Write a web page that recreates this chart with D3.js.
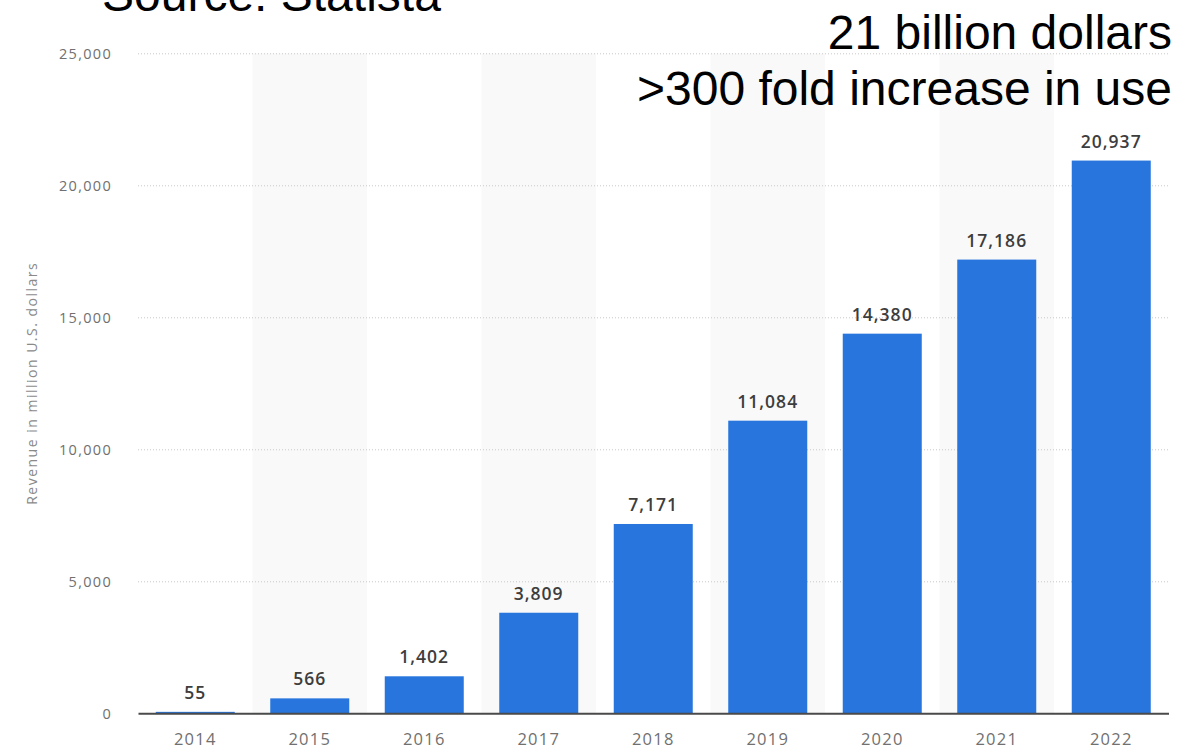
<!DOCTYPE html>
<html>
<head>
<meta charset="utf-8">
<script src="https://cdn.jsdelivr.net/npm/d3@7"></script>
<style>
  html, body { margin: 0; padding: 0; background: #fff; }
  svg { display: block; }
</style>
</head>
<body>
<svg id="chart" width="1201" height="747"></svg>
<script>
// Revenue by year, million U.S. dollars
const years = ["2014", "2015", "2016", "2017", "2018", "2019", "2020", "2021", "2022"];
const revenue = [55, 566, 1402, 3809, 7171, 11084, 14380, 17186, 20937];
const yTicks = [0, 5000, 10000, 15000, 20000, 25000];
const headline = ["21 billion dollars", ">300 fold increase in use"];
const sourceNote = "Source: Statista";
const yTitle = "Revenue in million U.S. dollars";

const svg = d3.select("#chart");
const plotLeft = 138, plotRight = 1168.5, plotTop = 53.3, plotBottom = 713.3;

const xBand = d3.scaleBand().domain(years).range([plotLeft, plotRight]).padding(0);
const xBar = d3.scaleBand().domain(years).range([plotLeft, plotRight])
  .paddingInner(0.31).paddingOuter(0.155);
const y = d3.scaleLinear().domain([0, 25000]).range([plotBottom, plotTop]);

const fmt = d3.format(",");

// alternating column shading
svg.append("g").selectAll("rect")
  .data(years.filter((d, i) => i % 2 === 1))
  .join("rect")
  .attr("x", d => xBand(d))
  .attr("y", plotTop)
  .attr("width", xBand.bandwidth())
  .attr("height", plotBottom - plotTop)
  .attr("fill", "#f9f9f9");

// dotted gridlines and value ticks
const yAxis = d3.axisLeft(y).tickValues(yTicks).tickFormat(fmt)
  .tickSize(0).tickPadding(0);
const gy = svg.append("g").attr("transform", `translate(${plotLeft},0)`).call(yAxis);
gy.select(".domain").remove();
gy.selectAll(".tick line").remove();
gy.selectAll(".tick")
  .filter(d => d > 0)
  .append("line")
  .attr("x1", 0).attr("x2", plotRight - plotLeft)
  .attr("stroke", "#c8c8c8")
  .attr("stroke-width", 1)
  .attr("stroke-dasharray", "1,2");
gy.selectAll(".tick text")
  .attr("x", -26)
  .attr("dy", "0.35em")
  .attr("fill", "#707070")
  .style("font-family", "'Open Sans', sans-serif")
  .style("font-size", "14.5px")
  .style("letter-spacing", "1.3px");

const rows = years.map((d, i) => ({ year: d, value: revenue[i] }));

// bars
svg.append("g").selectAll("rect")
  .data(rows)
  .join("rect")
  .attr("x", d => xBar(d.year))
  .attr("y", d => y(d.value))
  .attr("width", xBar.bandwidth())
  .attr("height", d => y(0) - y(d.value))
  .attr("fill", "#2876dd");

// value labels
svg.append("g").selectAll("text")
  .data(rows)
  .join("text")
  .attr("x", d => xBar(d.year) + xBar.bandwidth() / 2)
  .attr("y", d => y(d.value) - 13)
  .attr("text-anchor", "middle")
  .attr("fill", "#3d3d3d")
  .style("font-family", "'Open Sans', sans-serif")
  .style("font-weight", "600")
  .style("font-size", "17.5px")
  .style("letter-spacing", "1px")
  .text(d => fmt(d.value));

// x axis
const xAxis = d3.axisBottom(xBand).tickSize(0).tickPadding(0);
const gx = svg.append("g").attr("transform", `translate(0,${plotBottom})`).call(xAxis);
gx.select(".domain")
  .attr("stroke", "#4a4a4a")
  .attr("stroke-width", 2);
gx.selectAll(".tick text")
  .attr("y", 32)
  .attr("dy", 0)
  .attr("fill", "#707070")
  .style("font-family", "'Open Sans', sans-serif")
  .style("font-size", "16.5px")
  .style("letter-spacing", "1.2px");

// y axis title
svg.append("text")
  .attr("transform", `translate(36.5,${(plotTop + plotBottom) / 2}) rotate(-90)`)
  .attr("text-anchor", "middle")
  .attr("fill", "#8a8a8a")
  .style("font-family", "'Open Sans', sans-serif")
  .style("font-size", "14px")
  .style("letter-spacing", "1.5px")
  .text(yTitle);

// source note and headline
svg.append("text")
  .attr("x", 102).attr("y", 11)
  .attr("fill", "#000")
  .style("font-family", "'Liberation Sans', Arial, sans-serif")
  .style("font-size", "48px")
  .text(sourceNote);

svg.append("g").selectAll("text")
  .data(headline)
  .join("text")
  .attr("x", 1172)
  .attr("y", (d, i) => 49 + i * 56)
  .attr("text-anchor", "end")
  .attr("fill", "#000")
  .style("font-family", "'Liberation Sans', Arial, sans-serif")
  .style("font-size", "48px")
  .text(d => d);
</script>
</body>
</html>
